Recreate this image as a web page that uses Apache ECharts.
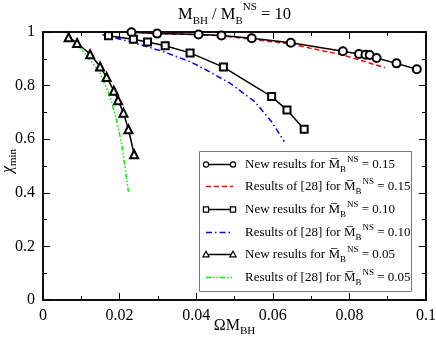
<!DOCTYPE html>
<html><head><meta charset="utf-8">
<script src="https://cdn.jsdelivr.net/npm/echarts@6/dist/echarts.min.js"></script>
<style>html,body{margin:0;padding:0;background:#fff}#c{width:436px;height:338px}</style>
</head><body><div id="c"></div>
<script>
// ---- data ----
var xTicks = [0, 0.02, 0.04, 0.06, 0.08, 0.1];
var yTicks = [0, 0.2, 0.4, 0.6, 0.8, 1];

var new15X = [0.0231, 0.0298, 0.0406, 0.0466, 0.0545, 0.0647, 0.0783, 0.0825, 0.0842, 0.0853, 0.0871, 0.0923, 0.0976];
var new15Y = [0.999, 0.994, 0.991, 0.987, 0.977, 0.960, 0.928, 0.918, 0.915, 0.914, 0.903, 0.883, 0.861];
var ref15X = [0.0231, 0.0300, 0.0406, 0.0466, 0.0545, 0.0647, 0.0783, 0.0893];
var ref15Y = [0.999, 0.995, 0.990, 0.986, 0.973, 0.955, 0.914, 0.867];

var new10X = [0.0171, 0.0236, 0.0273, 0.0319, 0.0384, 0.0471, 0.0597, 0.0637, 0.0682];
var new10Y = [0.986, 0.973, 0.963, 0.949, 0.922, 0.869, 0.759, 0.709, 0.637];
var ref10X = [0.0155, 0.0227, 0.0314, 0.0384, 0.0410, 0.0488, 0.0553, 0.0597, 0.0630];
var ref10Y = [0.990, 0.964, 0.927, 0.889, 0.871, 0.809, 0.740, 0.665, 0.591];

var new05X = [0.0067, 0.0089, 0.0123, 0.0149, 0.0166, 0.0185, 0.0196, 0.0210, 0.0223, 0.0238];
var new05Y = [0.980, 0.959, 0.917, 0.871, 0.832, 0.781, 0.745, 0.699, 0.637, 0.544];
var ref05X = [0.0091, 0.0123, 0.0149, 0.0175, 0.0192, 0.0205, 0.0214, 0.0223];
var ref05Y = [0.951, 0.896, 0.846, 0.759, 0.672, 0.585, 0.497, 0.404];

var seriesNames = ['new15', 'ref15', 'new10', 'ref10', 'new05', 'ref05'];
var legendPrefix = ['New results for ', 'Results of [28] for ', 'New results for ', 'Results of [28] for ', 'New results for ', 'Results of [28] for '];
var legendValue = ['0.15', '0.15', '0.10', '0.10', '0.05', '0.05'];
// ---------------------------------------

function zip(xs, ys) { return xs.map(function (x, i) { return [x, ys[i]]; }); }
var FF = "'Liberation Serif', 'Times New Roman', serif";

function richSet(base) {
  var s = Math.round(base * 0.68);
  return {
    m: { fontFamily: FF, fontSize: base, lineHeight: base + 6, color: '#000' },
    sub: { fontFamily: FF, fontSize: s, lineHeight: s, verticalAlign: 'bottom', color: '#000' },
    sup: { fontFamily: FF, fontSize: s, lineHeight: s, verticalAlign: 'top', color: '#000' },
    it: { fontFamily: FF, fontStyle: 'italic', fontSize: base, lineHeight: base + 6, color: '#000' }
  };
}
function richFill(base) {
  var s = Math.round(base * 0.68);
  return {
    m: { fontFamily: FF, fontSize: base, lineHeight: base + 6, fill: '#000' },
    sub: { fontFamily: FF, fontSize: s, lineHeight: s, verticalAlign: 'bottom', fill: '#000' },
    sup: { fontFamily: FF, fontSize: s, lineHeight: s, verticalAlign: 'top', fill: '#000', padding: [0, 0, 0, 1] }
  };
}

var chart = echarts.init(document.getElementById('c'), null, { renderer: 'canvas' });

function axisCommon(showLabel) {
  return {
    axisLine: { show: true, onZero: false, lineStyle: { color: '#000', width: 1.5 } },
    axisTick: { show: true, inside: true, length: 7, lineStyle: { color: '#000', width: 1 } },
    minorTick: { show: true, splitNumber: 2, length: 4, lineStyle: { color: '#000', width: 1 } },
    splitLine: { show: false },
    axisLabel: { show: showLabel, fontFamily: FF, fontSize: 16, color: '#000', formatter: fmt }
  };
}
function fmt(v) { return String(+v.toFixed(2)); }

var lineDefs = {
  new15: { x: new15X, y: new15Y, color: '#000', type: 'solid', symbol: 'emptyCircle', size: 8 },
  ref15: { x: ref15X, y: ref15Y, color: '#ff0000', type: [5, 3], symbol: 'none', size: 0 },
  new10: { x: new10X, y: new10Y, color: '#000', type: 'solid', symbol: 'emptyRect', size: 7 },
  ref10: { x: ref10X, y: ref10Y, color: '#0000ff', type: [6, 3, 1.5, 3], symbol: 'none', size: 0 },
  new05: { x: new05X, y: new05Y, color: '#000', type: 'solid', symbol: 'emptyTriangle', size: 8 },
  ref05: { x: ref05X, y: ref05Y, color: '#00ee00', type: [5, 2, 1.5, 2, 1.5, 2], symbol: 'none', size: 0 }
};

var series = seriesNames.map(function (n) {
  var d = lineDefs[n];
  return {
    name: n, type: 'line', xAxisIndex: 0, yAxisIndex: 0,
    data: zip(d.x, d.y),
    symbol: d.symbol, symbolSize: d.size, showSymbol: d.symbol !== 'none',
    itemStyle: { color: d.color, borderWidth: 1.2 },
    lineStyle: { color: d.color, width: 1.5, type: d.type },
    z: d.symbol === 'none' ? 2 : 3,
    animation: false, silent: true
  };
});
// dummy series to keep the mirrored axes alive
series.push({ type: 'line', xAxisIndex: 1, yAxisIndex: 1, data: [], silent: true, symbol: 'none' });

// ---- legend drawn as graphic (box, sample lines, symbols, rich text) ----
var LX = 199, LY = 151, LW = 212, LH = 140, rowY0 = 163.5, rowStep = 22.7;
var graphics = [{
  type: 'rect', shape: { x: LX + 0.5, y: LY + 0.5, width: LW, height: LH },
  style: { fill: '#fff', stroke: '#777', lineWidth: 1 }, z: 10, silent: true
}];
seriesNames.forEach(function (n, i) {
  var d = lineDefs[n];
  var y = Math.round(rowY0 + i * rowStep) + 0.5;
  var x1 = 206, x2 = 233;
  graphics.push({ type: 'line', shape: { x1: x1, y1: y, x2: x2, y2: y },
    style: { stroke: d.color, lineWidth: 1.5, lineDash: d.type === 'solid' ? null : d.type }, z: 11, silent: true });
  if (d.symbol !== 'none') {
    [x1, x2].forEach(function (sx) {
      if (d.symbol === 'emptyCircle') {
        graphics.push({ type: 'circle', shape: { cx: sx, cy: y, r: 2.6 }, style: { fill: '#fff', stroke: '#000', lineWidth: 1.2 }, z: 12, silent: true });
      } else if (d.symbol === 'emptyRect') {
        graphics.push({ type: 'rect', shape: { x: sx - 2.6, y: y - 2.6, width: 5.2, height: 5.2 }, style: { fill: '#fff', stroke: '#000', lineWidth: 1.2 }, z: 12, silent: true });
      } else {
        graphics.push({ type: 'polygon', shape: { points: [[sx, y - 3.3], [sx + 3.1, y + 2.3], [sx - 3.1, y + 2.3]] }, style: { fill: '#fff', stroke: '#000', lineWidth: 1.2 }, z: 12, silent: true });
      }
    });
  }
  graphics.push({ type: 'text', x: 245, y: y, z: 12, silent: true,
    style: { text: '{m|' + legendPrefix[i] + 'M\u0305}{sub|B}{sup|NS}{m| = ' + legendValue[i] + '}',
      rich: richFill(13), fontFamily: FF, fontSize: 13, fill: '#000', verticalAlign: 'middle', align: 'left' } });
});

var option = {
  backgroundColor: '#fff',
  animation: false,
  title: {
    text: 'M{sub|BH} / M{sub|B}{sup|NS} = 10',
    left: 178, top: 0, padding: [2, 0, 0, 0],
    textStyle: { fontFamily: FF, fontSize: 16.5, fontWeight: 'normal', color: '#000', lineHeight: 25, rich: richSet(16.5) }
  },
  grid: { left: 43, right: 10, top: 32, bottom: 38, outerBoundsMode: 'none', containLabel: false,
    show: true, borderColor: '#000', borderWidth: 1.5, backgroundColor: 'transparent' },
  xAxis: [
    Object.assign({}, axisCommon(true), {
      type: 'value', position: 'bottom', min: 0, max: 0.1, interval: 0.02,
      name: '\u03A9M{sub|BH}', nameLocation: 'middle', nameGap: 15, nameMoveOverlap: false,
      nameTextStyle: { fontFamily: FF, fontSize: 16, color: '#000', lineHeight: 22, rich: richSet(16) }
    }),
    Object.assign({}, axisCommon(false), { type: 'value', position: 'top', min: 0, max: 0.1, interval: 0.02 })
  ],
  yAxis: [
    Object.assign({}, axisCommon(true), {
      type: 'value', position: 'left', min: 0, max: 1, interval: 0.2,
      name: '{it|\u03C7}{sub|min}', nameLocation: 'middle', nameGap: 24, nameRotate: 90, nameMoveOverlap: false,
      nameTextStyle: { fontFamily: FF, fontSize: 16, color: '#000', lineHeight: 22, padding: [0, 0, 0, 10], rich: richSet(16) }
    }),
    Object.assign({}, axisCommon(false), { type: 'value', position: 'right', min: 0, max: 1, interval: 0.2 })
  ],
  graphic: graphics,
  series: series
};
chart.setOption(option);
</script></body></html>
